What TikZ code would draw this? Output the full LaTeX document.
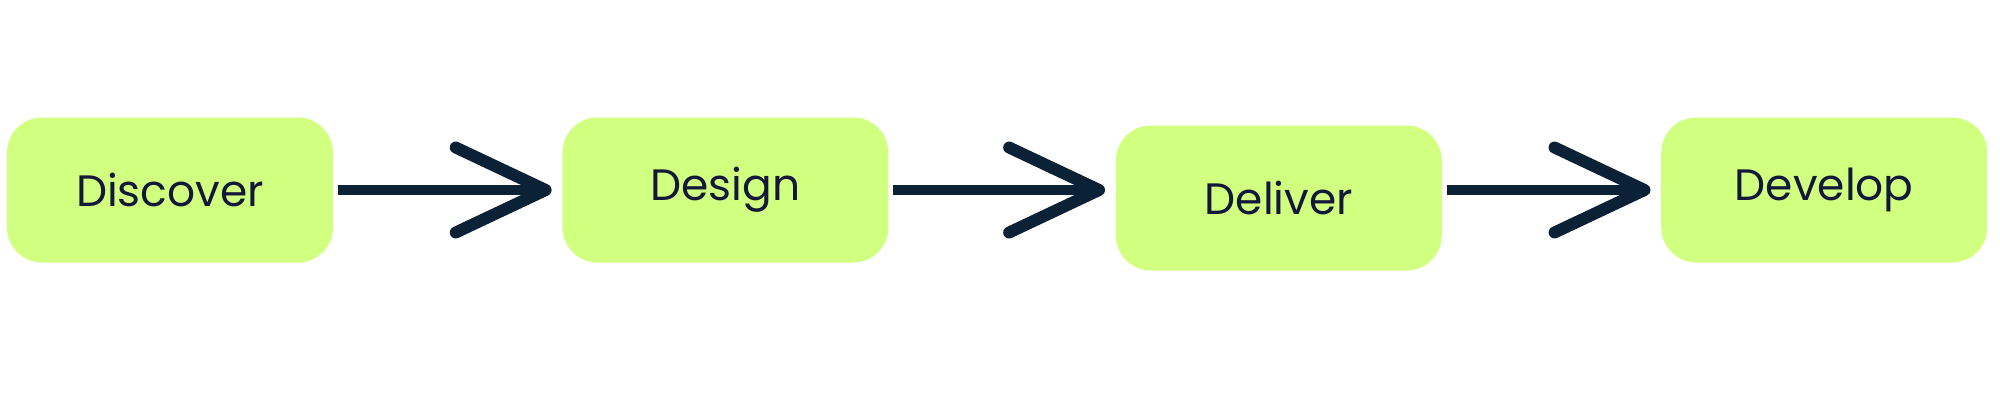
\documentclass[tikz,border=0pt]{standalone}
\usepackage{fontspec}
\setmainfont{Poppins}
\usetikzlibrary{positioning,arrows.meta}

\begin{document}
\begin{tikzpicture}
  \definecolor{lime}{HTML}{D1FF80}
  \definecolor{navy}{HTML}{0B2136}
  \definecolor{ink}{HTML}{141838}
  \newcommand{\boxsep}[0]{2.26cm}
  \newcommand{\stagename}[1]{\fontsize{12.5pt}{15pt}\selectfont #1}
  \tikzstyle{stage} = [rectangle, rounded corners=10pt, fill=lime, text=ink, minimum width=3.26cm, minimum height=1.45cm]
  \tikzstyle{flow}  = [line width=3pt, draw=navy, shorten <=0.04cm, shorten >=0.1cm,
                       -{Straight Barb[length=0.9cm, width=0.85cm, line width=3.4pt, round]}]

  \useasboundingbox (0,0) rectangle (20,4);

  \node [stage] at (1.70,2.10)                                  (discover) {\stagename{Discover}};
  \node [stage, right = 2.28cm of discover]                     (design)   {\stagename{Design}};
  \node [stage, right = \boxsep of design, yshift=-0.08cm]       (deliver)  {\stagename{Deliver}};
  \node [stage, right = 2.18cm of deliver, yshift=0.08cm]        (develop)  {\stagename{Develop}};

  \draw [flow] (discover) -- (design);
  \draw [flow] (design)   -- (deliver.west |- design);
  \draw [flow] (deliver.east |- develop) -- (develop);
\end{tikzpicture}
\end{document}
